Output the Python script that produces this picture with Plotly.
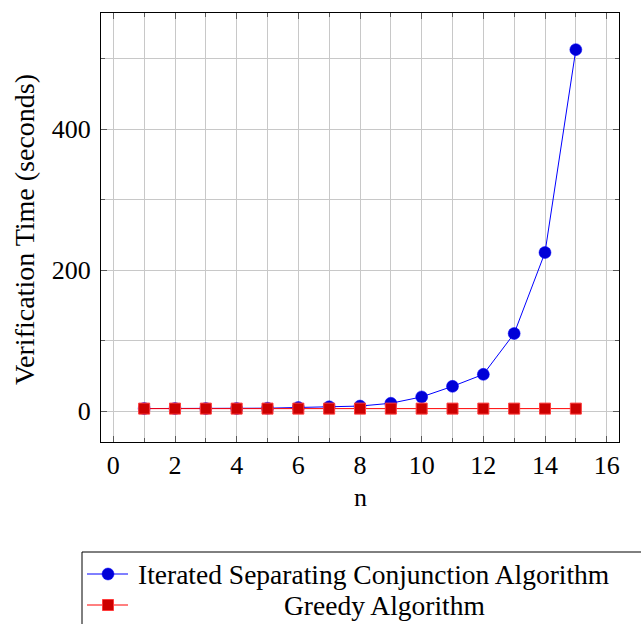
import plotly.graph_objects as go

n_values = list(range(1, 16))
iterated_times = [3.5, 3.5, 3.5, 3.6, 4, 5, 6, 7, 11, 20, 35, 52, 110, 225, 513]
greedy_times = [3.4] * 15
series_names = ["Iterated Separating Conjunction Algorithm", "Greedy Algorithm"]
x_ticks = list(range(0, 17, 2))
y_ticks = [0, 200, 400]

W, H = 641, 624
L, R, T, B = 101, 22, 13, 182
PW, PH = W - L - R, H - T - B

def px(x):
    return (x - L) / PW

def py(y):
    return (H - B - y) / PH

FONT = "Liberation Serif"

fig = go.Figure()
fig.add_trace(go.Scatter(
    x=n_values, y=iterated_times, mode="lines+markers", name=series_names[0],
    line=dict(color="rgb(0,0,255)", width=1),
    marker=dict(symbol="circle", size=12, color="rgb(0,0,215)", line=dict(color="rgb(0,0,255)", width=0.5)),
    showlegend=False,
))
fig.add_trace(go.Scatter(
    x=n_values, y=greedy_times, mode="lines+markers", name=series_names[1],
    line=dict(color="rgb(255,0,0)", width=1),
    marker=dict(symbol="square", size=11, color="rgb(204,0,0)", line=dict(color="rgb(255,60,60)", width=1)),
    showlegend=False,
))

grid = "rgb(200,200,200)"
fig.update_xaxes(
    range=[-0.4, 16.4], tickvals=x_ticks, ticks="inside", ticklen=6, tickcolor="rgb(90,90,90)",
    showgrid=True, gridcolor=grid, gridwidth=1, zeroline=False,
    showline=True, linecolor="black", linewidth=1, mirror="allticks",
    minor=dict(dtick=1, tick0=0, showgrid=True, gridcolor=grid, gridwidth=1, ticks="inside", ticklen=4, tickcolor="rgb(90,90,90)"),
    tickfont=dict(family=FONT, size=26, color="black"), ticklabelstandoff=0,
)
fig.update_yaxes(
    range=[-44, 565], tickvals=y_ticks, ticks="inside", ticklen=6, tickcolor="rgb(90,90,90)",
    showgrid=True, gridcolor=grid, gridwidth=1, zeroline=False,
    showline=True, linecolor="black", linewidth=1, mirror="allticks",
    minor=dict(dtick=100, tick0=0, showgrid=True, gridcolor=grid, gridwidth=1, ticks="inside", ticklen=4, tickcolor="rgb(90,90,90)"),
    tickfont=dict(family=FONT, size=26, color="black"), ticklabelstandoff=4,
)

annotations = [
    dict(text="n", x=0.5, y=py(497), xref="paper", yref="paper", showarrow=False,
         font=dict(family=FONT, size=26, color="black"), xanchor="center", yanchor="middle"),
    dict(text="Verification Time (seconds)", x=px(24), y=py(230), xref="paper", yref="paper",
         showarrow=False, textangle=-90, font=dict(family=FONT, size=28, color="black"),
         xanchor="center", yanchor="middle"),
    dict(text=series_names[0], x=px(136), y=py(574), xref="paper", yref="paper", showarrow=False,
         font=dict(family=FONT, size=27.5, color="black"), xanchor="left", yanchor="middle"),
    dict(text=series_names[1], x=px(384), y=py(605), xref="paper", yref="paper", showarrow=False,
         font=dict(family=FONT, size=27.5, color="black"), xanchor="center", yanchor="middle"),
]

shapes = [
    dict(type="rect", xref="paper", yref="paper", x0=px(82), x1=px(650), y0=py(552), y1=py(630),
         line=dict(color="black", width=1), fillcolor="rgba(0,0,0,0)"),
    dict(type="line", xref="paper", yref="paper", x0=px(87), x1=px(128), y0=py(574), y1=py(574),
         line=dict(color="rgb(0,0,255)", width=1)),
    dict(type="circle", xref="paper", yref="paper", x0=px(102), x1=px(114), y0=py(568), y1=py(580),
         line=dict(color="rgb(0,0,255)", width=0.5), fillcolor="rgb(0,0,215)"),
    dict(type="line", xref="paper", yref="paper", x0=px(87), x1=px(128), y0=py(605), y1=py(605),
         line=dict(color="rgb(255,0,0)", width=1)),
    dict(type="rect", xref="paper", yref="paper", x0=px(102.5), x1=px(113.5), y0=py(599.5), y1=py(610.5),
         line=dict(color="rgb(255,60,60)", width=1), fillcolor="rgb(204,0,0)"),
]

fig.update_layout(
    width=W, height=H, margin=dict(l=L, r=R, t=T, b=B),
    paper_bgcolor="white", plot_bgcolor="white",
    annotations=annotations, shapes=shapes, showlegend=False,
    font=dict(family=FONT, color="black"),
)

fig.write_html("out.html")
